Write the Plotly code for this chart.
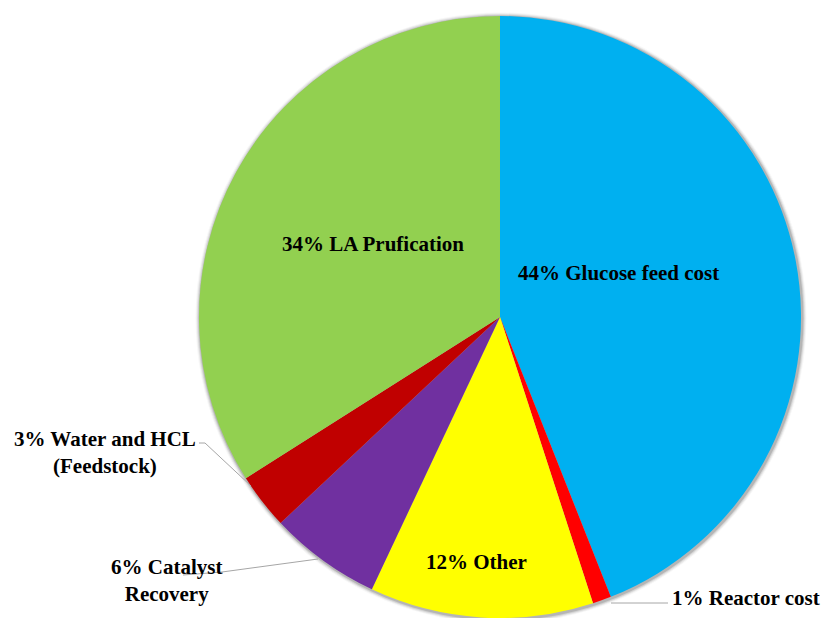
import plotly.graph_objects as go

# Cost breakdown, clockwise from 12 o'clock
labels = ["Glucose feed cost", "Reactor cost", "Other", "Catalyst Recovery",
          "Water and HCL (Feedstock)", "LA Prufication"]
values = [44, 1, 12, 6, 3, 34]
colors = ["#00B0F0", "#FF0000", "#FFFF00", "#7030A0", "#C00000", "#92D050"]

W, H = 824, 618
CX, CY, R = 500, 317, 301  # pixel geometry of the pie


def px(x):
    return x / W


def py(y):
    return 1 - y / H


fig = go.Figure()
fig.add_trace(go.Pie(
    labels=labels, values=values, sort=False, direction="clockwise", rotation=0,
    marker=dict(colors=colors, line=dict(width=0)),
    textinfo="none", hoverinfo="label+percent", showlegend=False,
    domain=dict(x=[px(CX - R), px(CX + R)], y=[py(CY + R), py(CY - R)]),
))

# soft drop shadow around the disc
shapes = []
for i, op in enumerate([0.14, 0.09, 0.06, 0.03]):
    d = i + 1.5
    shapes.append(dict(type="circle", xref="paper", yref="paper", layer="below",
                       x0=px(CX - R - d + 1), x1=px(CX + R + d + 1),
                       y0=py(CY + R + d + 1), y1=py(CY - R - d + 1),
                       fillcolor=f"rgba(0,0,0,{op})", line=dict(width=0)))

# leader lines for the small slices
line_style = dict(color="#A6A6A6", width=1)
leaders = [
    [(199, 443), (205, 443), (251, 486)],   # water and HCL
    [(183, 575), (222, 572), (318, 559)],   # catalyst recovery
    [(611, 603), (668, 603)],               # reactor cost
]
for pts in leaders:
    for (xa, ya), (xb, yb) in zip(pts[:-1], pts[1:]):
        shapes.append(dict(type="line", xref="paper", yref="paper",
                           x0=px(xa), y0=py(ya), x1=px(xb), y1=py(yb),
                           line=line_style))

font = dict(family="'Times New Roman', 'Liberation Serif', 'DejaVu Serif', serif",
            size=21, color="black")

lab_text = {
    "Glucose feed cost": f"<b>{values[0]}% Glucose feed cost</b>",
    "Reactor cost": f"<b>{values[1]}% Reactor cost</b>",
    "Other": f"<b>{values[2]}% Other</b>",
    "Catalyst Recovery": f"<b>{values[3]}% Catalyst<br>Recovery</b>",
    "Water and HCL (Feedstock)": f"<b>{values[4]}% Water and HCL<br>(Feedstock)</b>",
    "LA Prufication": f"<b>{values[5]}% LA Prufication</b>",
}
positions = {
    "Glucose feed cost": (618, 273),
    "Reactor cost": (746, 598),
    "Other": (476, 562),
    "Catalyst Recovery": (166, 580),
    "Water and HCL (Feedstock)": (105, 452),
    "LA Prufication": (373, 244),
}
annotations = []
for name in labels:
    x, y = positions[name]
    annotations.append(dict(x=px(x), y=py(y), xref="paper", yref="paper",
                            text=lab_text[name], showarrow=False, font=font,
                            align="center", xanchor="center", yanchor="middle"))

fig.update_layout(width=W, height=H, margin=dict(l=0, r=0, t=0, b=0),
                  paper_bgcolor="white", plot_bgcolor="white",
                  font=dict(family="'Liberation Serif', serif"),
                  shapes=shapes, annotations=annotations)

fig.write_html("out.html")
